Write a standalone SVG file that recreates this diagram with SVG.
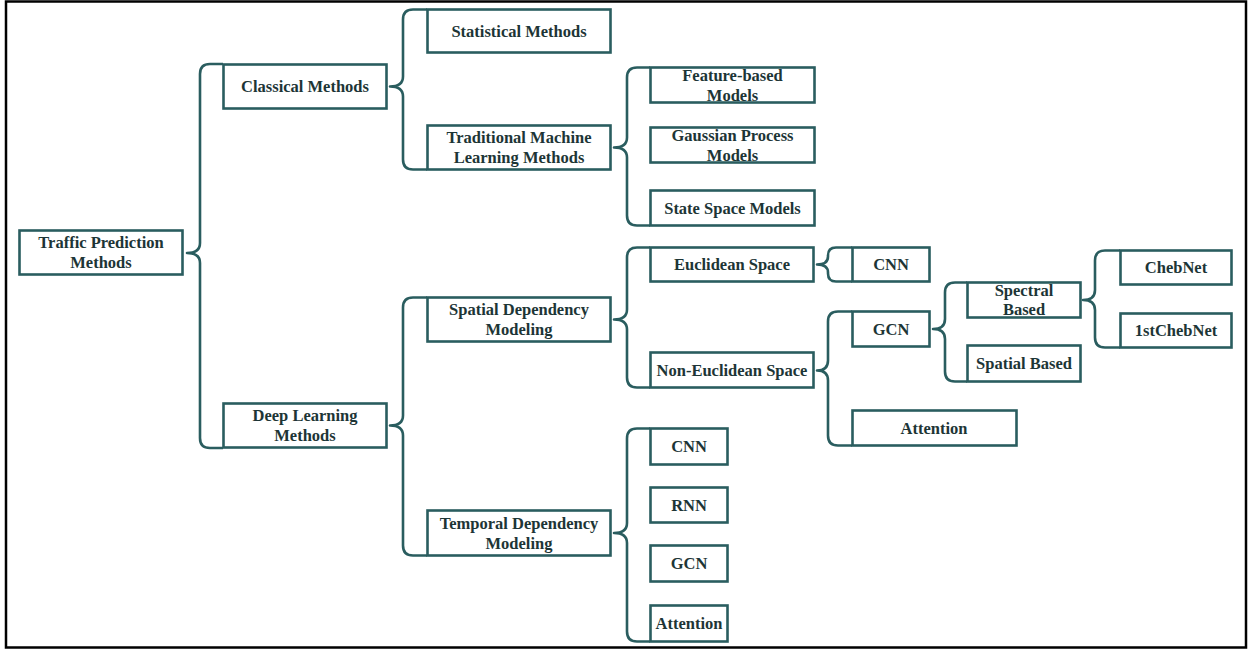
<svg xmlns="http://www.w3.org/2000/svg" width="1250" height="650" viewBox="0 0 1250 650">
<style>
.box{fill:#fff;stroke:#2a5d5f;stroke-width:2.6}
.br{fill:none;stroke:#2a5d5f;stroke-width:2.6;stroke-linejoin:round}
.t{font-family:"Liberation Serif","Times New Roman",serif;font-weight:bold;font-size:16.5px;fill:#1d3536;text-anchor:middle}
</style>
<rect x="0" y="0" width="1250" height="650" fill="#fff"/>
<rect x="6" y="1.5" width="1240" height="646" fill="none" stroke="#000" stroke-width="2.5"/>
<g id="connectors">
<path class="br" d="M223 64 H210 Q200 64 200 74 V243 Q200 253 187 253 Q200 253 200 263 V438 Q200 448 210 448 H223"/>
<path class="br" d="M427 9.5 H413 Q403 9.5 403 19.5 V76.5 Q403 86.5 390 86.5 Q403 86.5 403 96.5 V159.5 Q403 169.5 413 169.5 H427"/>
<path class="br" d="M650 67.5 H637 Q627 67.5 627 77.5 V137.5 Q627 147.5 614 147.5 Q627 147.5 627 157.5 V215.5 Q627 225.5 637 225.5 H650"/>
<path class="br" d="M427 297.5 H413 Q403 297.5 403 307.5 V415.5 Q403 425.5 390 425.5 Q403 425.5 403 435.5 V545.5 Q403 555.5 413 555.5 H427"/>
<path class="br" d="M650 247.5 H637 Q627 247.5 627 257.5 V309.5 Q627 319.5 614 319.5 Q627 319.5 627 329.5 V377.5 Q627 387.5 637 387.5 H650"/>
<path class="br" d="M650 428.5 H637 Q627 428.5 627 438.5 V523 Q627 533 614 533 Q627 533 627 543 V631.5 Q627 641.5 637 641.5 H650"/>
<path class="br" d="M852 247.5 H836 Q828 247.5 828 255.5 V256.5 Q828 264.5 817 264.5 Q828 264.5 828 272.5 V273.5 Q828 281.5 836 281.5 H852"/>
<path class="br" d="M852 311.5 H838 Q828 311.5 828 321.5 V360.5 Q828 370.5 817 370.5 Q828 370.5 828 380.5 V435.5 Q828 445.5 838 445.5 H852"/>
<path class="br" d="M967 282.5 H955 Q945 282.5 945 292.5 V319 Q945 329 933 329 Q945 329 945 339 V371.5 Q945 381.5 955 381.5 H967"/>
<path class="br" d="M1120 250.5 H1105 Q1095 250.5 1095 260.5 V290 Q1095 300 1083 300 Q1095 300 1095 310 V337.5 Q1095 347.5 1105 347.5 H1120"/>
</g>
<g id="root"><rect class="box" x="19.5" y="230.5" width="163" height="44"/><text class="t" x="101" y="248">Traffic Prediction</text><text class="t" x="101" y="268">Methods</text></g>
<g id="classical"><rect class="box" x="223.5" y="64.5" width="163" height="44"/><text class="t" x="305" y="92">Classical Methods</text></g>
<g id="deep"><rect class="box" x="223.5" y="403.5" width="163" height="44"/><text class="t" x="305" y="421">Deep Learning</text><text class="t" x="305" y="441">Methods</text></g>
<g id="statistical"><rect class="box" x="427.5" y="9.5" width="183" height="43"/><text class="t" x="519" y="36.5">Statistical Methods</text></g>
<g id="tradml"><rect class="box" x="427.5" y="125.5" width="183" height="44"/><text class="t" x="519" y="143">Traditional Machine</text><text class="t" x="519" y="163">Learning Methods</text></g>
<g id="feature"><rect class="box" x="650.5" y="67.5" width="164" height="35"/><text class="t" x="732.5" y="80.5">Feature-based</text><text class="t" x="732.5" y="100.5">Models</text></g>
<g id="gaussian"><rect class="box" x="650.5" y="127.5" width="164" height="35"/><text class="t" x="732.5" y="140.5">Gaussian Process</text><text class="t" x="732.5" y="160.5">Models</text></g>
<g id="statespace"><rect class="box" x="650.5" y="190.5" width="164" height="35"/><text class="t" x="732.5" y="213.5">State Space Models</text></g>
<g id="spatialdep"><rect class="box" x="427.5" y="297.5" width="183" height="44"/><text class="t" x="519" y="315">Spatial Dependency</text><text class="t" x="519" y="335">Modeling</text></g>
<g id="temporaldep"><rect class="box" x="427.5" y="510.5" width="183" height="45"/><text class="t" x="519" y="528.5">Temporal Dependency</text><text class="t" x="519" y="548.5">Modeling</text></g>
<g id="euclidean"><rect class="box" x="650.5" y="247.5" width="163" height="34"/><text class="t" x="732" y="270">Euclidean Space</text></g>
<g id="noneuclidean"><rect class="box" x="650.5" y="352.5" width="163" height="35"/><text class="t" x="732" y="376">Non-Euclidean Space</text></g>
<g id="cnn-e"><rect class="box" x="852.5" y="247.5" width="77" height="34"/><text class="t" x="891" y="270">CNN</text></g>
<g id="gcn-s"><rect class="box" x="852.5" y="311.5" width="77" height="35"/><text class="t" x="891" y="334.5">GCN</text></g>
<g id="attention-s"><rect class="box" x="852.5" y="410.5" width="164" height="35"/><text class="t" x="934" y="433.5">Attention</text></g>
<g id="spectral"><rect class="box" x="967.5" y="282.5" width="113" height="35"/><text class="t" x="1024" y="295.5">Spectral</text><text class="t" x="1024" y="314.5">Based</text></g>
<g id="spatialbased"><rect class="box" x="967.5" y="345.5" width="113" height="36"/><text class="t" x="1024" y="369">Spatial Based</text></g>
<g id="chebnet"><rect class="box" x="1120.5" y="250.5" width="111" height="34"/><text class="t" x="1176" y="273">ChebNet</text></g>
<g id="firstchebnet"><rect class="box" x="1120.5" y="313.5" width="111" height="34"/><text class="t" x="1176" y="336">1stChebNet</text></g>
<g id="cnn-t"><rect class="box" x="650.5" y="428.5" width="77" height="36"/><text class="t" x="689" y="452">CNN</text></g>
<g id="rnn-t"><rect class="box" x="650.5" y="487.5" width="77" height="35"/><text class="t" x="689" y="510.5">RNN</text></g>
<g id="gcn-t"><rect class="box" x="650.5" y="545.5" width="77" height="36"/><text class="t" x="689" y="569">GCN</text></g>
<g id="attention-t"><rect class="box" x="650.5" y="605.5" width="77" height="36"/><text class="t" x="689" y="629">Attention</text></g>
</svg>
